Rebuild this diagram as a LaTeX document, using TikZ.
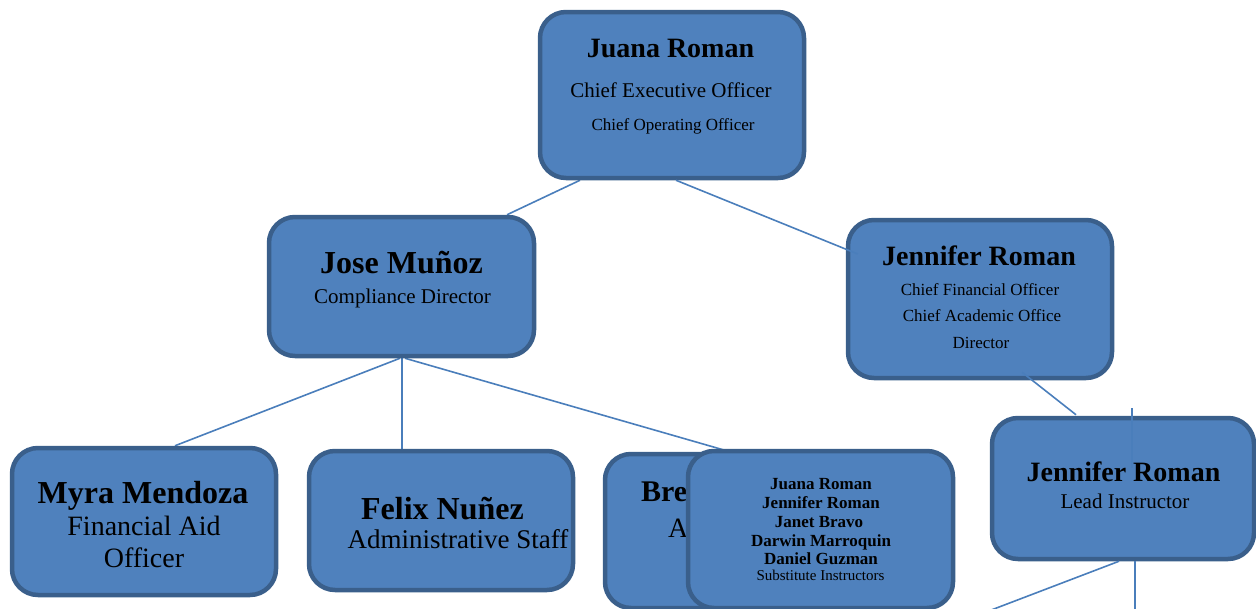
\documentclass[tikz,border=0pt]{standalone}
\usepackage{fontspec}
\setmainfont{Liberation Serif}
\usetikzlibrary{calc,backgrounds}
\definecolor{boxfill}{HTML}{4F81BD}
\definecolor{boxline}{HTML}{3A5F8B}
\definecolor{conn}{HTML}{4A7EBB}
\newcommand{\fs}[1]{\fontsize{#1}{#1}\selectfont}
\tikzset{
  orgbox/.style={draw=boxline, fill=boxfill, line width=4.5pt, rounded corners=26pt, inner sep=0pt},
  conline/.style={draw=conn, line width=1.6pt},
  txt/.style={anchor=base, inner sep=0pt, text=black},
}
\begin{document}
\begin{tikzpicture}[x=1pt,y=-1pt]
\useasboundingbox (0,0) rectangle (1256,608);
% boxes
\node[orgbox, minimum width=264pt, minimum height=166pt] (juana) at (672,95) {};
\node[orgbox, minimum width=265pt, minimum height=139pt] (jose) at (401.5,286.5) {};
\node[orgbox, minimum width=264pt, minimum height=158pt] (cfo) at (980,299) {};
\node[orgbox, minimum width=264pt, minimum height=147pt] (myra) at (144,521.5) {};
\node[orgbox, minimum width=264pt, minimum height=139pt] (felix) at (441,520.5) {};
\node[orgbox, minimum width=264pt, minimum height=154pt] (bre) at (737,531) {};
\node[txt, anchor=base west] (bre-t1) at (641,501) {\fs{30}\bfseries Bre};
\node[txt, anchor=base west] (bre-t2) at (668,537) {\fs{28}A};
\node[orgbox, minimum width=265pt, minimum height=157pt] (sub) at (820.5,529.5) {};
\node[orgbox, minimum width=262pt, minimum height=141pt] (lead) at (1123,488.5) {};
% connectors behind boxes
\begin{scope}[on background layer]
\draw[conline] ($(juana.south)+(-92,0)$) -- ($(jose.north)+(105.5,0)$);
\draw[conline] ($(jose.south)+(-1.5,0)$) -- ($(myra.north)+(31,0)$);
\draw[conline] ($(jose.south)+(0.5,0)$) -- ($(felix.north)+(-39,0)$);
\draw[conline] ($(jose.south)+(3.5,0)$) -- ($(bre.north)+(-7,0)$);
\end{scope}
% connectors over boxes
\draw[conline] ($(juana.south)+(4,0)$) -- ($(cfo.west)+(12,-45)$);
\draw[conline] ($(cfo.south)+(42,-8)$) -- ($(lead.north)+(-47,-1)$);
\coordinate (vtop) at (1132,408);
\coordinate (vbot) at (1132,468);
\draw[conline] (vtop) -- (vbot);
\coordinate (low1) at (986,612);
\coordinate (low2) at (1135,612);
\draw[conline] ($(lead.south)+(-4,0)$) -- (low1);
\draw[conline] ($(lead.south)+(12,0)$) -- (low2);
% texts
\node[txt] (juana-t1) at (670.5,57) {\fs{28}\bfseries Juana Roman};
\node[txt] (juana-t2) at (671,97) {\fs{21}Chief Executive Officer};
\node[txt] (juana-t3) at (673,130) {\fs{17}Chief Operating Officer};
\node[txt] (jose-t1) at (401.5,273) {\fs{32}\bfseries Jose Muñoz};
\node[txt] (jose-t2) at (402.5,303) {\fs{21}Compliance Director};
\node[txt] (cfo-t1) at (979,265) {\fs{28}\bfseries Jennifer Roman};
\node[txt] (cfo-t2) at (980,295) {\fs{17}Chief Financial Officer};
\node[txt] (cfo-t3) at (982,321) {\fs{17}Chief Academic Office};
\node[txt] (cfo-t4) at (981,348) {\fs{17}Director};
\node[txt] (lead-t1) at (1123.5,481) {\fs{28}\bfseries Jennifer Roman};
\node[txt] (lead-t2) at (1125,508) {\fs{21}Lead Instructor};
\node[txt] (myra-t1) at (143,503) {\fs{32}\bfseries Myra Mendoza};
\node[txt] (myra-t2) at (144,535) {\fs{28}Financial Aid};
\node[txt] (myra-t3) at (144,567) {\fs{28}Officer};
\node[txt] (felix-t1) at (442.5,519) {\fs{32}\bfseries Felix Nuñez};
\node[txt] (felix-t2) at (458,548) {\fs{27}Administrative Staff};
\node[txt] (sub-t1) at (821,489) {\fs{17}\bfseries Juana Roman};
\node[txt] (sub-t2) at (821,508) {\fs{17}\bfseries Jennifer Roman};
\node[txt] (sub-t3) at (819,527) {\fs{17}\bfseries Janet Bravo};
\node[txt] (sub-t4) at (821,546) {\fs{17}\bfseries Darwin Marroquin};
\node[txt] (sub-t5) at (821,564) {\fs{17}\bfseries Daniel Guzman};
\node[txt] (sub-t6) at (820.5,580) {\fs{15}Substitute Instructors};
\end{tikzpicture}
\end{document}
